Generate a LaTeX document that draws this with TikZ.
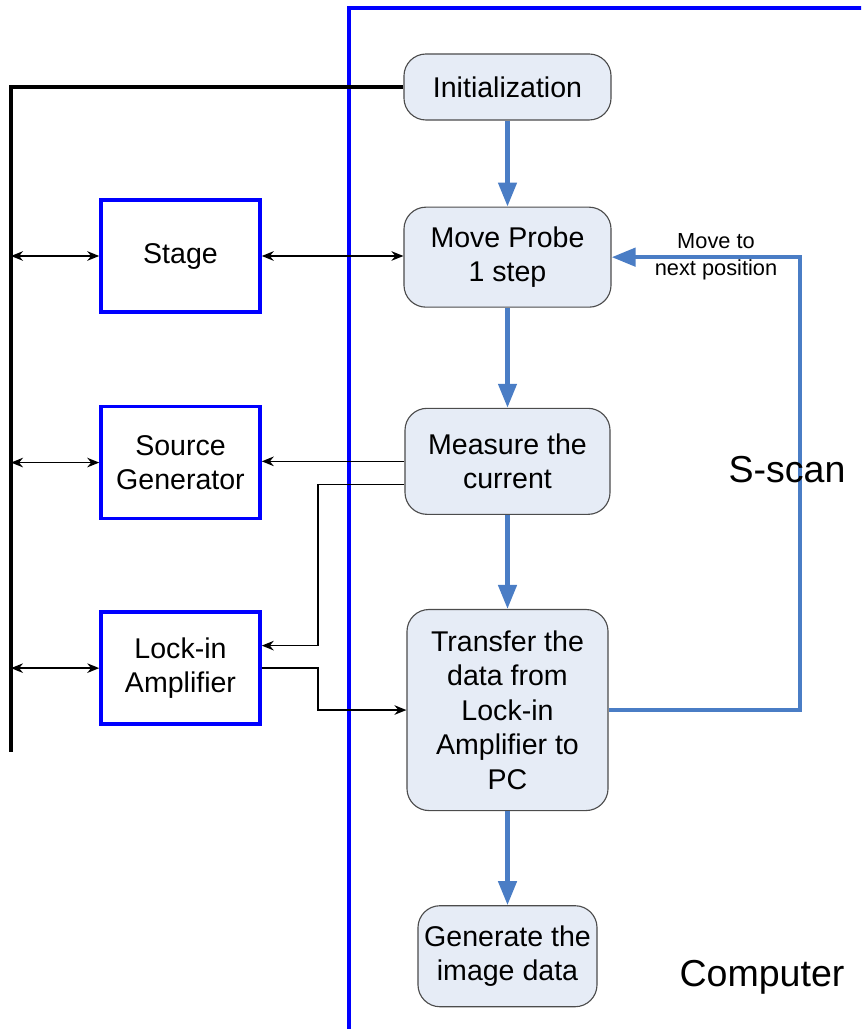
\documentclass[tikz,border=0pt]{standalone}
\usepackage{xcolor}
\usepackage{fontspec}
\setmainfont{Liberation Sans}
\usepackage{tikz}
\usetikzlibrary{arrows.meta, positioning, calc}
\definecolor{flowblue}{RGB}{74,125,197}
\definecolor{flowfill}{RGB}{230,236,246}

\begin{document}
\begin{tikzpicture}[
    x=0.025cm, y=-0.025cm,
    process/.style={draw=black!70, line width=0.8pt, rounded corners=0.55cm, fill=flowfill,
                   minimum width=5.175cm, align=center, inner sep=0pt,
                   font=\fontsize{20.3}{24.5}\selectfont},
    device/.style={draw=blue, line width=2.5pt, minimum width=3.975cm, minimum height=2.8cm,
                  align=center, inner sep=0pt, font=\fontsize{20.3}{24.5}\selectfont},
    flow/.style={-{Triangle[length=0.6cm, width=0.45cm]}, line width=3.2pt, draw=flowblue},
    link/.style={-{Stealth[length=0.3cm, width=0.24cm]}, line width=1.1pt},
    dlink/.style={{Stealth[length=0.3cm, width=0.24cm]}-{Stealth[length=0.3cm, width=0.24cm]},
                 line width=1.1pt},
    bus/.style={line width=2.5pt},
    frame/.style={draw=blue, line width=2.5pt},
    note/.style={font=\fontsize{15.5}{19}\selectfont, align=center, inner sep=0pt},
    big/.style={font=\fontsize{26.7}{30}\selectfont, inner sep=0pt}
]
\useasboundingbox (0,0) rectangle (861,1029);
\clip (0,0) rectangle (861,1029);

% computer side
\node[process, minimum height=1.65cm] (init) at (507.5,87) {Initialization};
\node[process, minimum height=2.5cm, below=2.15cm of init] (move) {Move Probe\\1 step};
\node[process, minimum width=5.125cm, minimum height=2.65cm, below=2.5cm of move]
    (measure) {Measure the\\current};
\node[process, minimum width=5.025cm, minimum height=5.025cm, below=2.35cm of measure]
    (transfer) {Transfer the\\data from\\Lock-in\\Amplifier to\\PC};
\node[process, minimum width=4.475cm, minimum height=2.525cm, below=2.35cm of transfer]
    (generate) {Generate the\\image data};

% instruments
\node[device] (stage) at (180.5,256) {Stage};
\node[device, below=2.275cm of stage] (source) {Source\\Generator};
\node[device, below=2.25cm of source] (lockin) {Lock-in\\Amplifier};

\node[note] (movelbl) at (716,257) {Move to\\next position};

\coordinate (busend) at (11,752);
\coordinate (jog) at (318,0);
\coordinate (sturn) at (800,500);
\coordinate (framebot) at (349,1060);
\coordinate (frametop) at (890,8);

\draw[frame] (framebot) |- (frametop);
\draw[bus] (init.west) -| (busend);

\draw[flow] (init) -- (move); \draw[flow] (move) -- (measure);
\draw[flow] (measure) -- (transfer); \draw[flow] (transfer) -- (generate);
\draw[flow] (transfer.east) -| (sturn) |- (move.east);

\draw[dlink] (stage.west -| busend) -- (stage.west);
\draw[dlink] (source.west -| busend) -- (source.west);
\draw[dlink] (lockin.west -| busend) -- (lockin.west);
\draw[dlink] (stage.east) -- (stage.east -| move.west);
\draw[link] (measure.west) -- (measure.west -| source.east);
\draw[link] ([yshift=-0.575cm]measure.west) -| ([yshift=0.5625cm]lockin.east -| jog)
    -- ([yshift=0.5625cm]lockin.east);
\draw[link] (lockin.east) -| (transfer.west -| jog) -- (transfer.west);

% labels over the loop
\node[big] (sscan) at (787,470) {S-scan};
\node[big] (computer) at (762,977) {Computer};
\end{tikzpicture}
\end{document}
